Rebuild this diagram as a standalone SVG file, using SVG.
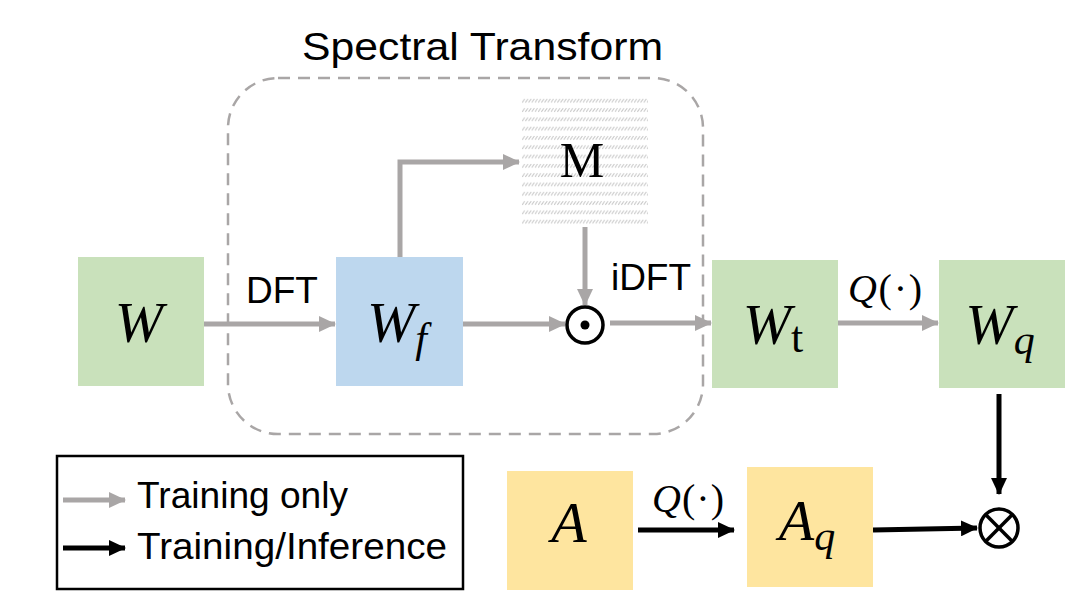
<svg xmlns="http://www.w3.org/2000/svg" width="1074" height="604" viewBox="0 0 1074 604">
<style>
.sans{font-family:"Liberation Sans","Open Sans",Arial,sans-serif;fill:#000}
.math{font-family:"Liberation Serif","DejaVu Serif",serif;font-style:italic;fill:#000}
.green{fill:#c9e1bb}
.gline{stroke:#a9a6a6;stroke-width:5;fill:none}
.bline{stroke:#000;stroke-width:5;fill:none}
</style>
<defs>
<marker id="ga" viewBox="0 0 17 16" refX="16" refY="8" markerWidth="17" markerHeight="16" orient="auto" markerUnits="userSpaceOnUse"><path d="M0,0 L17,8 L0,16 z" fill="#a9a6a6"/></marker>
<marker id="ba" viewBox="0 0 17 16" refX="16" refY="8" markerWidth="17" markerHeight="16" orient="auto" markerUnits="userSpaceOnUse"><path d="M0,0 L17,8 L0,16 z" fill="#000"/></marker>
<pattern id="hatch" width="3.2" height="9.3" patternUnits="userSpaceOnUse" x="522" y="97">
<line x1="0.2" y1="5.5" x2="2.8" y2="1.8" stroke="#c4c4c4" stroke-width="1"/>
</pattern>
</defs>
<rect width="1074" height="604" fill="#fff"/>
<text class="sans" x="302" y="60" font-size="39" textLength="361" lengthAdjust="spacingAndGlyphs">Spectral Transform</text>
<rect x="228" y="78" width="475" height="356" rx="50" ry="50" fill="none" stroke="#a9a6a6" stroke-width="2.5" stroke-dasharray="12,8"/>

<g id="connectors">
<line class="gline" x1="204" y1="324" x2="335" y2="324" marker-end="url(#ga)"/>
<polyline class="gline" points="400,257 400,162 519,162" marker-end="url(#ga)"/>
<line class="gline" x1="463" y1="324" x2="565" y2="324" marker-end="url(#ga)"/>
<line class="gline" x1="585" y1="227" x2="585" y2="305" marker-end="url(#ga)"/>
<line class="gline" x1="610" y1="323" x2="711" y2="323" marker-end="url(#ga)"/>
<line class="gline" x1="838" y1="323" x2="938" y2="323" marker-end="url(#ga)"/>
<line class="bline" x1="999" y1="394" x2="999" y2="494" marker-end="url(#ba)"/>
<line class="bline" x1="638" y1="530" x2="734" y2="530" marker-end="url(#ba)"/>
<line class="bline" x1="873" y1="530" x2="977" y2="528" marker-end="url(#ba)"/>
<text class="sans" x="282" y="303" font-size="37" text-anchor="middle">DFT</text>
<text class="sans" x="651" y="290" font-size="37" text-anchor="middle">iDFT</text>
<text class="math" x="848" y="302" font-size="40" textLength="74" lengthAdjust="spacing">Q<tspan font-style="normal">(·)</tspan></text>
<text class="math" x="652" y="512" font-size="40" textLength="72" lengthAdjust="spacing">Q<tspan font-style="normal">(·)</tspan></text>
</g>

<g id="node-W">
<rect class="green" x="78" y="257" width="126" height="129"/>
<text class="math" x="139" y="342" font-size="58" text-anchor="middle">W</text>
</g>
<g id="node-Wf">
<rect x="336" y="257" width="127" height="129" fill="#bdd7ee"/>
<text class="math" x="397" y="342" font-size="58" text-anchor="middle">W<tspan font-size="42" dy="10">f</tspan></text>
</g>
<g id="node-M">
<rect x="522" y="97" width="126" height="130" fill="url(#hatch)"/>
<text x="582" y="177" font-size="50" text-anchor="middle" font-family="'Liberation Serif','DejaVu Serif',serif">M</text>
</g>
<g id="node-hadamard">
<circle cx="585" cy="325" r="18" fill="#fff" stroke="#000" stroke-width="3.5"/>
<circle cx="585" cy="325" r="4.5" fill="#000"/>
</g>
<g id="node-Wt">
<rect class="green" x="712" y="260" width="126" height="128"/>
<text class="math" x="773" y="344" font-size="58" text-anchor="middle">W<tspan font-style="normal" font-size="44" dy="8">t</tspan></text>
</g>
<g id="node-Wq">
<rect class="green" x="939" y="260" width="126" height="128"/>
<text class="math" x="1000" y="344" font-size="58" text-anchor="middle">W<tspan font-size="42" dy="10">q</tspan></text>
</g>
<g id="node-A">
<rect x="507" y="471" width="126" height="119" fill="#fee59f"/>
<text class="math" x="569" y="542" font-size="58" text-anchor="middle">A</text>
</g>
<g id="node-Aq">
<rect x="747" y="467" width="126" height="120" fill="#fee59f"/>
<text class="math" x="807" y="540" font-size="58" text-anchor="middle">A<tspan font-size="42" dy="10">q</tspan></text>
</g>
<g id="node-otimes">
<circle cx="999" cy="528" r="19" fill="#fff" stroke="#000" stroke-width="3.5"/>
<line x1="985.6" y1="514.6" x2="1012.4" y2="541.4" stroke="#000" stroke-width="3.5"/>
<line x1="1012.4" y1="514.6" x2="985.6" y2="541.4" stroke="#000" stroke-width="3.5"/>
</g>

<g id="legend">
<rect x="57" y="456" width="406" height="133" fill="none" stroke="#000" stroke-width="2.5"/>
<line class="gline" x1="63" y1="500" x2="125" y2="500" marker-end="url(#ga)"/>
<text class="sans" x="137" y="508" font-size="37" textLength="211" lengthAdjust="spacingAndGlyphs">Training only</text>
<line class="bline" x1="63" y1="548" x2="125" y2="548" marker-end="url(#ba)"/>
<text class="sans" x="137" y="559" font-size="37" textLength="310" lengthAdjust="spacingAndGlyphs">Training/Inference</text>
</g>
</svg>
